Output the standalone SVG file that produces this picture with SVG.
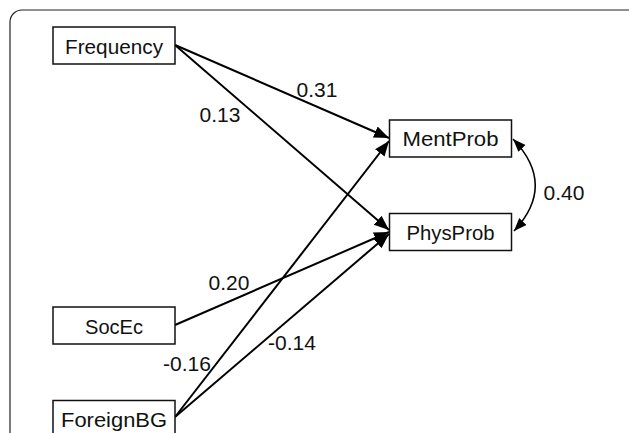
<svg xmlns="http://www.w3.org/2000/svg" width="629" height="433" viewBox="0 0 629 433">
<style>
.box{fill:#fff;stroke:#111;stroke-width:1.5}
.lbl{font-family:"Liberation Sans",Arial,sans-serif;font-size:21px;fill:#111}
.edge{fill:none;stroke:#000;stroke-width:2}
.cov{fill:none;stroke:#000;stroke-width:1.5}
</style>
<defs>
<marker id="ah" markerUnits="userSpaceOnUse" markerWidth="16" markerHeight="14" refX="15" refY="6" orient="auto" viewBox="0 0 16 12">
<path d="M0,0 L15,6 L0,12 Z" fill="#000"/>
</marker>
<marker id="ah2" markerUnits="userSpaceOnUse" markerWidth="14" markerHeight="12" refX="13" refY="5" orient="auto-start-reverse" viewBox="0 0 14 10">
<path d="M0,0 L13,5 L0,10 Z" fill="#000"/>
</marker>
</defs>
<rect x="10" y="10" width="640" height="460" rx="12" fill="#fff" stroke="#222" stroke-width="1.2"/>
<g id="connectors">
<line class="edge" x1="175" y1="45" x2="389" y2="138" marker-end="url(#ah)"/>
<line class="edge" x1="175" y1="45" x2="389" y2="230" marker-end="url(#ah)"/>
<line class="edge" x1="175" y1="325" x2="389" y2="232" marker-end="url(#ah)"/>
<line class="edge" x1="175" y1="417" x2="389" y2="141" marker-end="url(#ah)"/>
<line class="edge" x1="175" y1="417" x2="389" y2="234" marker-end="url(#ah)"/>
<path class="cov" d="M513,139 Q557,185 514,231" marker-start="url(#ah2)" marker-end="url(#ah2)"/>
</g>
<g id="labels">
<text class="lbl" x="317" y="97" text-anchor="middle">0.31</text>
<text class="lbl" x="220" y="122" text-anchor="middle">0.13</text>
<text class="lbl" x="564" y="200" text-anchor="middle">0.40</text>
<text class="lbl" x="229" y="290" text-anchor="middle">0.20</text>
<text class="lbl" x="187" y="371" text-anchor="middle">-0.16</text>
<text class="lbl" x="292" y="350" text-anchor="middle">-0.14</text>
</g>
<g id="Frequency">
<rect class="box" x="53" y="27" width="122" height="37"/>
<text class="lbl" x="114" y="53.5" text-anchor="middle" textLength="98" lengthAdjust="spacingAndGlyphs">Frequency</text>
</g>
<g id="MentProb">
<rect class="box" x="389.5" y="120" width="122" height="37"/>
<text class="lbl" x="450.5" y="146" text-anchor="middle" textLength="96" lengthAdjust="spacingAndGlyphs">MentProb</text>
</g>
<g id="PhysProb">
<rect class="box" x="389.5" y="213.5" width="122" height="37"/>
<text class="lbl" x="450.5" y="240" text-anchor="middle" textLength="88" lengthAdjust="spacingAndGlyphs">PhysProb</text>
</g>
<g id="SocEc">
<rect class="box" x="53" y="307" width="122" height="37"/>
<text class="lbl" x="114" y="334" text-anchor="middle" textLength="58" lengthAdjust="spacingAndGlyphs">SocEc</text>
</g>
<g id="ForeignBG">
<rect class="box" x="53" y="400.5" width="122" height="37"/>
<text class="lbl" x="114" y="427" text-anchor="middle" textLength="106" lengthAdjust="spacingAndGlyphs">ForeignBG</text>
</g>
</svg>
